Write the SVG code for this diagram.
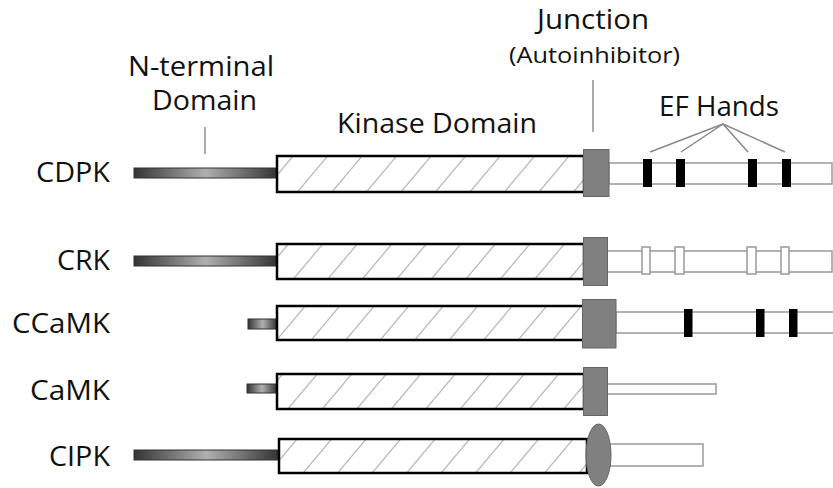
<svg xmlns="http://www.w3.org/2000/svg" width="833" height="488" viewBox="0 0 833 488">
<defs>
<style>
.lbl{font-family:"Open Sans","Segoe UI","DejaVu Sans",sans-serif;font-size:28px;fill:#111}
.sm{font-size:21px}
.rod{fill:url(#rodGrad);stroke:#333;stroke-width:1}
.kin{fill:url(#hatch);stroke:#000;stroke-width:2.5}
.jn{fill:#808080;stroke:#666;stroke-width:1}
.cbar{fill:#fff;stroke:#999;stroke-width:1.5}
.efb{fill:#000}
.efw{fill:#fff;stroke:#999;stroke-width:1.5}
.con{stroke:#aaa;stroke-width:2;fill:none}
.ef{stroke:#888;stroke-width:1.5;fill:none}
</style>
<linearGradient id="rodGrad" x1="0" y1="0" x2="1" y2="0">
<stop offset="0" stop-color="#333"/>
<stop offset="0.5" stop-color="#b0b0b0"/>
<stop offset="1" stop-color="#333"/>
</linearGradient>
<pattern id="hatch" patternUnits="userSpaceOnUse" width="34.5" height="20" patternTransform="skewX(-40)">
<rect width="34.5" height="20" fill="#fff"/>
<line x1="10" y1="0" x2="10" y2="20" stroke="#888" stroke-width="1"/>
</pattern>
</defs>

<g id="labels">
<text class="lbl" x="128" y="76" textLength="146" lengthAdjust="spacingAndGlyphs">N-terminal</text>
<text class="lbl" x="152" y="110" textLength="105" lengthAdjust="spacingAndGlyphs">Domain</text>
<text class="lbl" x="337" y="133" textLength="200" lengthAdjust="spacingAndGlyphs">Kinase Domain</text>
<text class="lbl" x="537" y="29" textLength="112" lengthAdjust="spacingAndGlyphs">Junction</text>
<text class="lbl sm" x="509" y="63" textLength="171" lengthAdjust="spacingAndGlyphs">(Autoinhibitor)</text>
<text class="lbl" x="659" y="116" textLength="120" lengthAdjust="spacingAndGlyphs">EF Hands</text>
</g>

<g id="connectors">
<line class="con" x1="205" y1="127" x2="205" y2="154"/>
<line class="con" x1="593" y1="80" x2="593" y2="132"/>
<line class="ef" x1="723" y1="124" x2="650" y2="152"/>
<line class="ef" x1="723" y1="124" x2="681" y2="152"/>
<line class="ef" x1="723" y1="124" x2="748" y2="152"/>
<line class="ef" x1="723" y1="124" x2="785" y2="152"/>
</g>

<g id="CDPK">
<text class="lbl" x="36" y="182" textLength="74" lengthAdjust="spacingAndGlyphs">CDPK</text>
<rect class="rod" x="134" y="168" width="143" height="10"/>
<rect class="kin" x="277" y="156" width="307" height="36"/>
<rect class="cbar" x="609" y="163" width="223" height="21"/>
<rect class="efb" x="643" y="159" width="9" height="28"/>
<rect class="efb" x="676" y="159" width="9" height="28"/>
<rect class="efb" x="748" y="159" width="9" height="28"/>
<rect class="efb" x="782" y="159" width="9" height="28"/>
<rect class="jn" x="583.5" y="149.5" width="25.5" height="47"/>
</g>

<g id="CRK">
<text class="lbl" x="57" y="270" textLength="53" lengthAdjust="spacingAndGlyphs">CRK</text>
<rect class="rod" x="134" y="256" width="143" height="10"/>
<rect class="kin" x="277" y="244" width="307" height="35"/>
<rect class="cbar" x="607" y="251" width="225" height="21"/>
<rect class="efw" x="642" y="247" width="8" height="27"/>
<rect class="efw" x="675" y="247" width="9" height="27"/>
<rect class="efw" x="747" y="247" width="9" height="27"/>
<rect class="efw" x="781" y="247" width="8" height="27"/>
<rect class="jn" x="583.5" y="237.5" width="24" height="48"/>
</g>

<g id="CCaMK">
<text class="lbl" x="12" y="333" textLength="98" lengthAdjust="spacingAndGlyphs">CCaMK</text>
<rect class="rod" x="248" y="319" width="29" height="10"/>
<rect class="kin" x="277" y="306" width="307" height="34"/>
<rect class="cbar" x="616" y="312" width="220" height="21"/>
<rect class="efb" x="684" y="309" width="8.5" height="28"/>
<rect class="efb" x="756" y="309" width="8.5" height="28"/>
<rect class="efb" x="789" y="309" width="8.5" height="28"/>
<rect class="jn" x="582.5" y="299.5" width="33.5" height="48.5"/>
</g>

<g id="CaMK">
<text class="lbl" x="30" y="400" textLength="80" lengthAdjust="spacingAndGlyphs">CaMK</text>
<rect class="rod" x="247" y="384" width="30" height="9"/>
<rect class="kin" x="277" y="374" width="307" height="35"/>
<rect class="cbar" x="607" y="384" width="109" height="10"/>
<rect class="jn" x="583.5" y="367.5" width="24" height="48"/>
</g>

<g id="CIPK">
<text class="lbl" x="49" y="466" textLength="61" lengthAdjust="spacingAndGlyphs">CIPK</text>
<rect class="rod" x="134" y="450" width="145" height="10"/>
<rect class="kin" x="279" y="439" width="308" height="34"/>
<rect class="cbar" x="609" y="444" width="94" height="22"/>
<ellipse class="jn" cx="598.5" cy="455" rx="12.5" ry="31"/>
</g>
</svg>
